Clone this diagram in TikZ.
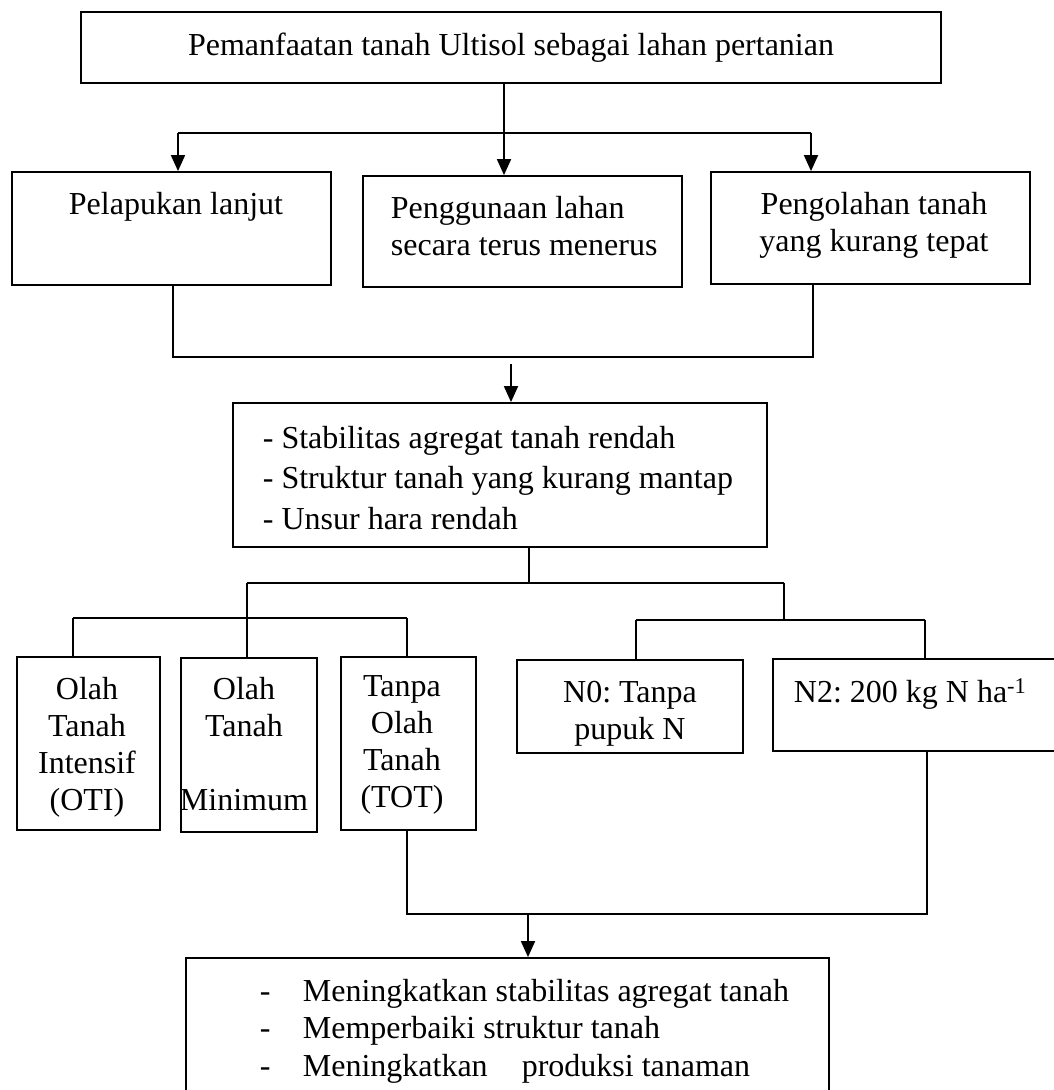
\documentclass[tikz,border=0pt]{standalone}
\usepackage{fontspec}
\setmainfont{Liberation Serif}
\usetikzlibrary{arrows.meta}
\frenchspacing

\begin{document}
\begin{tikzpicture}[x=1pt,y=-1pt,line width=1.8pt,
        box/.style={draw,inner sep=0pt},
        txt/.style={inner sep=0pt,font=\fontsize{32}{37}\selectfont},
        arr/.style={-{Triangle[length=16pt,width=14pt]}}]
    \useasboundingbox (0,0) rectangle (1054,1090);
    \clip (0,0) rectangle (1054,1090);

    % boxes
    \node[box,txt,minimum width=860pt,minimum height=71pt] (top) at (511,47.5) {Pemanfaatan tanah Ultisol sebagai lahan pertanian};

    \node[box,minimum width=319pt,minimum height=113pt] (b1) at (171.5,228.5) {};
    \node[box,minimum width=319pt,minimum height=111pt] (b2) at (522.5,231.5) {};
    \node[box,minimum width=319pt,minimum height=112pt] (b3) at (870.5,228) {};

    \node[box,minimum width=534pt,minimum height=144pt] (b4) at (500,475) {};

    \node[box,minimum width=143pt,minimum height=173pt] (bA) at (88.5,743.5) {};
    \node[box,minimum width=136pt,minimum height=174pt] (bB) at (249,745) {};
    \node[box,minimum width=135pt,minimum height=173pt] (bC) at (408.5,743.5) {};
    \node[box,minimum width=226pt,minimum height=93pt] (bD) at (630,706.5) {};
    \node[box,minimum width=291pt,minimum height=92pt] (bE) at (918.5,705) {};

    \node[box,minimum width=643pt,minimum height=142pt] (bF) at (507.5,1029) {};

    % texts
    \node[txt,anchor=north] (t1) at (176,191) {Pelapukan lanjut};
    \node[txt,anchor=north west,align=left] (t2) at (390,195) {Penggunaan lahan\\secara terus menerus};
    \node[txt,anchor=north,align=center] (t3) at (874,191) {Pengolahan tanah\\yang kurang tepat};

    \node[txt,anchor=north west,align=left,font=\fontsize{32}{40.5}\selectfont] (t4) at (262,425)
        {- Stabilitas agregat tanah rendah\\- Struktur tanah yang kurang mantap\\- Unsur hara rendah};

    \node[txt,anchor=north,align=center] (tA) at (87,676) {Olah\\Tanah\\Intensif\\(OTI)};
    \node[txt,anchor=north,align=center] (tB) at (244,676) {Olah\\Tanah\\\\Minimum};
    \node[txt,anchor=north,align=center] (tC) at (402,675) {Tanpa\\Olah\\Tanah\\(TOT)};
    \node[txt,anchor=north,align=center] (tD) at (630,680) {N0: Tanpa\\pupuk N};
    \node[txt,anchor=north west] (tE) at (793,678) {N2: 200 kg N ha\textsuperscript{-1}};

    \node[txt,anchor=north west,align=left,font=\fontsize{32}{37.5}\selectfont] (tF) at (259,978)
        {\makebox[43pt][l]{-}Meningkatkan stabilitas agregat tanah\\
         \makebox[43pt][l]{-}Memperbaiki struktur tanah\\
         \makebox[43pt][l]{-}Meningkatkan\hspace{26pt} produksi tanaman};

    % top branching
    \coordinate (busM) at (504,133);
    \coordinate (busL) at (178,133);
    \coordinate (busR) at (811,133);
    \draw (top.south -| busM) -- (busM);
    \draw (busL) -- (busR);
    \draw[arr] (busL) -- (busL |- b1.north);
    \draw[arr] (busM) -- (busM |- b2.north);
    \draw[arr] (busR) -- (busR |- b3.north);

    % join to problems
    \coordinate (joinL) at (173,357);
    \coordinate (joinR) at (813,357);
    \draw (b1.south -| joinL) -- (joinL) -- (joinR) -- (b3.south -| joinR);
    \coordinate (a2) at (511,364);
    \draw[arr] (a2) -- (a2 |- b4.north);

    % split to treatments
    \coordinate (split) at (529,583);
    \coordinate (splitL) at (247,583);
    \coordinate (splitR) at (784,583);
    \draw (b4.south -| split) -- (split);
    \draw (splitL) -- (splitR);

    \coordinate (tillL) at (73,618);
    \coordinate (tillR) at (407,618);
    \draw (splitL) -- (splitL |- bB.north);
    \draw (tillL) -- (tillR);
    \draw (tillL) -- (tillL |- bA.north);
    \draw (tillR) -- (tillR |- bC.north);

    \coordinate (fertL) at (636,620);
    \coordinate (fertR) at (925,620);
    \draw (splitR) -- (splitR |- fertL);
    \draw (fertL) -- (fertR);
    \draw (fertL) -- (fertL |- bD.north);
    \draw (fertR) -- (fertR |- bE.north);

    % join to results
    \coordinate (joinC) at (407,914);
    \coordinate (joinE) at (927,914);
    \draw (bC.south -| joinC) -- (joinC) -- (joinE) -- (bE.south -| joinE);
    \coordinate (a3) at (528,914);
    \draw[arr] (a3) -- (a3 |- bF.north);
\end{tikzpicture}
\end{document}
